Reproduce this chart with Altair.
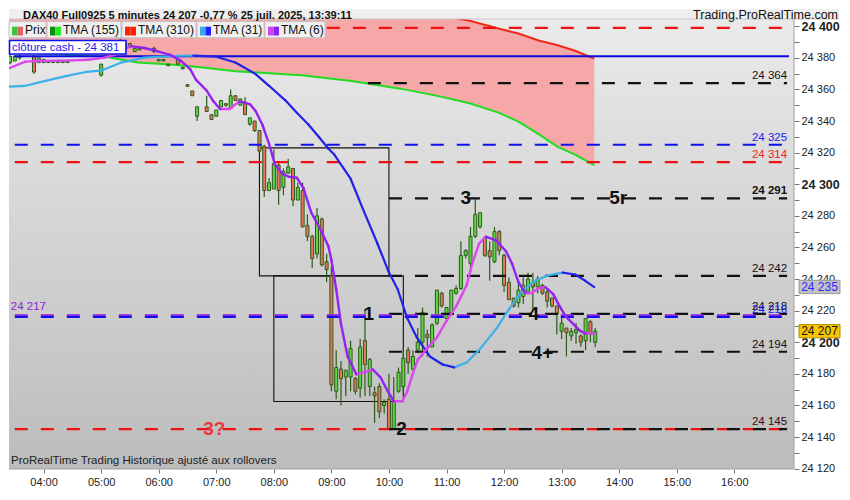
import altair as alt
import pandas as pd
import numpy as np

FONT = "Liberation Sans, Arial, sans-serif"
NARROW = "Liberation Sans Narrow, Liberation Sans, sans-serif"

W, H = 785, 460
X_DOMAIN = [3.486, 16.95]
Y_DOMAIN = [24119.8, 24410.9]

# ---------------- candles (5 minutes) ----------------
CANDLE_TIMES = [
    "03:25", "03:30", "03:35", "03:50", "03:55", "04:00", "04:05", "04:10", "04:15", "04:20", "04:25",
    "05:00", "05:20", "05:25", "05:30", "05:35", "05:40", "05:55", "06:00", "06:05", "06:10", "06:20", "06:25",
    "06:30", "06:35", "06:40", "06:50", "06:55", "07:00", "07:05", "07:10", "07:15", "07:20", "07:25", "07:30",
    "07:35", "07:40", "07:45", "07:50", "07:55", "08:00", "08:05", "08:10", "08:15", "08:20", "08:25", "08:30",
    "08:35", "08:40", "08:45", "08:50", "08:55", "09:00", "09:05", "09:10", "09:15", "09:20", "09:25", "09:30",
    "09:35", "09:40", "09:45", "09:50", "09:55", "10:00", "10:05", "10:10", "10:15", "10:20", "10:25", "10:30",
    "10:35", "10:40", "10:45", "10:50", "10:55", "11:00", "11:05", "11:10", "11:15", "11:20", "11:25", "11:30",
    "11:35", "11:40", "11:45", "11:50", "11:55", "12:00", "12:05", "12:10", "12:15", "12:20", "12:25", "12:30",
    "12:35", "12:40", "12:45", "12:50", "12:55", "13:00", "13:05", "13:10", "13:15", "13:20", "13:25", "13:30", "13:35"]
OPEN = [
    24377, 24378, 24380, 24381, 24377, 24377, 24378, 24378, 24378, 24377, 24377,
    24369, 24387, 24388, 24389, 24384, 24385, 24384, 24378, 24378, 24375, 24379, 24373,
    24363, 24359, 24343, 24349, 24344, 24343, 24349, 24351, 24348, 24356, 24350, 24352,
    24338, 24340, 24334, 24324, 24296, 24297, 24312, 24298, 24307, 24310, 24290, 24296,
    24274, 24267, 24256, 24278, 24251, 24242, 24169, 24183, 24178, 24178, 24177, 24171,
    24201, 24172, 24168, 24172, 24160, 24164, 24145, 24169, 24172, 24195, 24183, 24195,
    24200, 24205, 24197, 24212, 24231, 24215, 24218, 24231, 24234, 24255, 24250, 24267,
    24273, 24266, 24258, 24251, 24270, 24255, 24238, 24228, 24225, 24229, 24232, 24238,
    24235, 24236, 24232, 24228, 24223, 24207, 24209, 24204, 24206, 24204, 24201, 24213, 24200]
HIGH = [
    24382, 24381, 24382, 24382, 24380, 24379, 24378, 24378, 24378, 24378, 24378,
    24376, 24392, 24390, 24389, 24386, 24386, 24387, 24379, 24379, 24376, 24379, 24374,
    24363, 24359, 24349, 24356, 24344, 24347, 24353, 24351, 24360, 24356, 24354, 24355,
    24342, 24340, 24334, 24325, 24304, 24322, 24314, 24310, 24316, 24310, 24301, 24301,
    24281, 24268, 24285, 24279, 24256, 24248, 24195, 24188, 24183, 24201, 24178, 24202,
    24221, 24190, 24172, 24174, 24164, 24180, 24178, 24184, 24197, 24197, 24195, 24209,
    24222, 24208, 24212, 24233, 24232, 24222, 24233, 24236, 24264, 24259, 24273, 24291,
    24282, 24267, 24264, 24273, 24271, 24256, 24241, 24228, 24239, 24241, 24244, 24244,
    24242, 24237, 24234, 24228, 24223, 24216, 24209, 24209, 24212, 24205, 24215, 24214, 24209]
LOW = [
    24376, 24378, 24379, 24370, 24377, 24377, 24377, 24377, 24377, 24377, 24377,
    24368, 24386, 24388, 24386, 24384, 24385, 24383, 24378, 24378, 24375, 24376, 24373,
    24362, 24356, 24340, 24346, 24341, 24343, 24349, 24349, 24348, 24353, 24350, 24344,
    24337, 24333, 24320, 24292, 24296, 24297, 24287, 24293, 24307, 24286, 24290, 24273,
    24264, 24247, 24253, 24248, 24238, 24169, 24164, 24160, 24166, 24169, 24167, 24165,
    24166, 24166, 24149, 24152, 24155, 24145, 24145, 24168, 24168, 24180, 24182, 24193,
    24191, 24191, 24197, 24211, 24222, 24214, 24217, 24230, 24233, 24253, 24244, 24266,
    24272, 24254, 24239, 24250, 24255, 24232, 24227, 24222, 24222, 24224, 24230, 24220,
    24231, 24230, 24222, 24222, 24205, 24202, 24191, 24201, 24199, 24197, 24195, 24200, 24197]
CLOSE = [
    24381, 24381, 24381, 24371, 24380, 24379, 24377, 24377, 24377, 24378, 24378,
    24376, 24391, 24389, 24387, 24386, 24386, 24386, 24379, 24379, 24376, 24376, 24374,
    24362, 24356, 24349, 24346, 24341, 24347, 24353, 24350, 24356, 24353, 24354, 24344,
    24342, 24334, 24321, 24296, 24301, 24313, 24296, 24308, 24311, 24290, 24298, 24273,
    24267, 24253, 24280, 24249, 24246, 24173, 24184, 24177, 24182, 24196, 24169, 24197,
    24186, 24189, 24166, 24156, 24162, 24145, 24163, 24181, 24190, 24187, 24191, 24200,
    24219, 24203, 24211, 24233, 24223, 24222, 24233, 24234, 24255, 24258, 24267, 24281,
    24282, 24255, 24254, 24270, 24258, 24236, 24227, 24223, 24233, 24236, 24240, 24235,
    24240, 24231, 24226, 24223, 24218, 24212, 24206, 24207, 24208, 24200, 24215, 24205, 24207]

# ---------------- moving averages ----------------
TMA6_TIMES = ["03:21", "03:41", "03:55", "04:15", "04:30", "04:46", "05:04", "05:14", "05:24", "05:31",
              "05:45", "05:58", "06:12", "06:23", "06:33", "06:39", "06:50", "06:57", "07:04", "07:14",
              "07:24", "07:35", "07:41", "07:48", "07:55", "08:01", "08:09", "08:16", "08:24", "08:31",
              "08:39", "08:50", "08:57", "09:00", "09:05", "09:10", "09:17", "09:26", "09:34", "09:43",
              "09:51", "09:59", "10:05", "10:14", "10:19", "10:24", "10:30", "10:40", "10:50", "11:00",
              "11:10", "11:21", "11:27", "11:34", "11:41", "11:52", "12:02", "12:08", "12:15", "12:22",
              "12:29", "12:36", "12:43", "12:51", "12:58", "13:04", "13:12", "13:19", "13:25", "13:34"]
TMA6 = [24372.7, 24377.6, 24378.0, 24378.2, 24378.4, 24378.8, 24380.1, 24381.9, 24385.6, 24387.4,
        24386.2, 24384.3, 24381.9, 24378.2, 24372.7, 24366.0, 24359.2, 24352.5, 24347.6, 24347.6,
        24352.5, 24350.7, 24346.4, 24337.8, 24325.6, 24312.7, 24306.6, 24304.7, 24304.1, 24297.4,
        24282.1, 24269.8, 24260.6, 24252.1, 24233.7, 24211.6, 24190.8, 24179.8, 24181.0, 24182.9,
        24178.0, 24168.8, 24162.7, 24162.7, 24168.8, 24178.6, 24189.0, 24196.3, 24203.1, 24213.5,
        24222.7, 24236.1, 24250.2, 24262.5, 24266.8, 24264.3, 24257.6, 24250.2, 24238.0, 24231.2,
        24231.2, 24234.3, 24234.9, 24230.6, 24222.7, 24216.5, 24211.6, 24207.4, 24205.5, 24205.5]

TMA31_TIMES = ["03:21", "03:41", "04:02", "04:23", "04:43", "05:01", "05:21", "05:45", "06:05", "06:19",
               "06:36", "07:00", "07:20", "07:41", "07:55", "08:12", "08:24", "08:36", "08:47", "08:57",
               "09:03", "09:20", "09:34", "09:48", "10:00", "10:09", "10:19", "10:29", "10:43", "10:56",
               "11:08", "11:21", "11:34", "11:52", "12:05", "12:18", "12:33", "12:46", "13:01", "13:14",
               "13:24", "13:34"]
TMA31 = [24361.7, 24362.3, 24365.4, 24368.4, 24370.9, 24372.1, 24377.0, 24380.1, 24380.7, 24381.3,
         24381.4, 24380.7, 24377.0, 24369.7, 24362.3, 24353.1, 24345.2, 24337.8, 24329.9, 24322.5,
         24318.8, 24303.5, 24282.7, 24262.5, 24244.1, 24233.7, 24215.3, 24203.1, 24190.8, 24185.9,
         24184.1, 24187.2, 24195.1, 24208.6, 24220.8, 24231.9, 24239.2, 24242.3, 24244.1, 24242.9,
         24239.2, 24234.9]

SLOW_TIMES = ["03:21", "04:12", "05:04", "05:38", "06:13", "06:46", "07:20", "07:55", "08:29", "09:21",
              "10:12", "10:53", "11:24", "11:55", "12:15", "12:36", "12:56", "13:14", "13:34"]
TMA155 = [24383.7, 24382.5, 24380.7, 24377.0, 24375.8, 24373.9, 24371.5, 24370.3, 24369.0, 24365.4,
          24360.5, 24355.6, 24351.3, 24345.2, 24339.6, 24331.7, 24323.7, 24318.8, 24312.1]
TMA310 = [24462, 24458, 24453, 24449, 24445, 24440, 24435, 24429, 24424, 24418,
          24412, 24407, 24403.5, 24398.4, 24395.4, 24391.0, 24388.0, 24384.5, 24379.5]

# ---------------- horizontal levels ----------------
LEVEL_PRICES = [24399, 24364, 24325, 24314, 24291, 24242, 24218, 24217, 24216, 24194, 24145, 24145]
LEVEL_COLORS = ["#ee1111", "#111111", "#1010ee", "#ee1111", "#111111", "#111111", "#111111",
                "#8a22dd", "#1010ee", "#111111", "#ee1111", "#111111"]
LEVEL_START = ["03:30", "09:38", "03:30", "03:30", "10:00", "10:00", "10:00",
               "03:30", "03:30", "10:00", "03:30", "10:00"]
LEVEL_END = "16:55"
CASH_CLOSE = 24381

LABEL_PRICES = [24364, 24325, 24314, 24242, 24218, 24216, 24194, 24145]
LABEL_COLORS = ["#111111", "#2020ee", "#ee2020", "#111111", "#111111", "#2020ee", "#111111", "#3a0a0a"]
BOLD_LABEL = 24291

ANNOT_TEXT = ["3", "5r", "1", "4", "4+", "2", "3?"]
ANNOT_TIME = ["11:20", "13:59", "09:39", "12:31", "12:40", "10:13", "06:58"]
ANNOT_PRICE = [24291, 24291, 24218, 24218, 24193, 24145, 24145]
ANNOT_COLOR = ["#111111", "#111111", "#111111", "#111111", "#111111", "#111111", "#e83a3a"]

BOX_T1 = ["07:45", "08:00"]
BOX_T2 = ["10:00", "10:15"]
BOX_TOP = [24323, 24242]
BOX_BOTTOM = [24242, 24162.5]

LAST_PRICE = 24207
TMA31_LAST = 24235


def to_h(s):
    h, m = s.split(":")
    return int(h) + int(m) / 60.0


def fmt(p):
    p = int(round(p))
    return f"{p // 1000} {p % 1000:03d}"


xs = alt.Scale(domain=X_DOMAIN, nice=False, zero=False)
ys = alt.Scale(domain=Y_DOMAIN, nice=False, zero=False)
xaxis = alt.Axis(values=list(range(4, 17)), labelExpr="(datum.value < 10 ? '0' : '') + datum.value + ':00'",
                 title=None, grid=False, domain=False, tickColor="#777", tickSize=4, labelFontSize=11,
                 labelColor="#222", labelFont=FONT, labelPadding=3)
yaxis = alt.Axis(orient="right", values=list(range(24120, 24401, 10)),
                 labelExpr="datum.value % 20 === 0 ? replace(format(datum.value, ','), ',', ' ') : ''",
                 title=None, grid=False, domain=False, tickColor="#777", tickSize=5, labelPadding=2,
                 labelFont=FONT, labelColor="#222",
                 labelFontSize={"condition": {"test": "datum.value % 100 === 0", "value": 12.5}, "value": 11},
                 labelFontWeight={"condition": {"test": "datum.value % 100 === 0", "value": "bold"},
                                  "value": "normal"})


def X(f):
    return alt.X(f, type="quantitative", scale=xs, axis=xaxis)


def Y(f):
    return alt.Y(f, type="quantitative", scale=ys, axis=yaxis)


ONE = pd.DataFrame({"k": [0]})


def prect(x1, x2, y1, y2, fill, stroke=None, sw=1.0):
    kw = dict(fill=fill)
    if stroke:
        kw.update(stroke=stroke, strokeWidth=sw)
    return alt.Chart(ONE).mark_rect(**kw).encode(
        x=alt.value(x1), x2=alt.value(x2), y=alt.value(y1), y2=alt.value(y2))


def ptext(x, y, text, size=12, color="#111", weight="normal", align="left", font=FONT, baseline="middle"):
    return alt.Chart(ONE).mark_text(text=text, fontSize=size, color=color, fontWeight=weight,
                                    align=align, baseline=baseline, font=font).encode(
        x=alt.value(x), y=alt.value(y))


# ---------------- dataframes ----------------
cd = pd.DataFrame({"t": [to_h(s) for s in CANDLE_TIMES], "o": OPEN, "h": HIGH, "l": LOW, "c": CLOSE})
up = cd[cd.c >= cd.o]
dn = cd[cd.c < cd.o]


def segs(times, vals):
    d = pd.DataFrame({"t": [to_h(s) for s in times], "v": vals})
    d["t2"] = d["t"].shift(-1)
    d["v2"] = d["v"].shift(-1)
    d = d.dropna()
    d["dir"] = np.where(d["v2"] >= d["v"], "up", "down")
    return d


s6 = segs(TMA6_TIMES, TMA6)
s31 = segs(TMA31_TIMES, TMA31)
slow = pd.DataFrame({"t": [to_h(s) for s in SLOW_TIMES], "a": TMA155, "b": TMA310})
lv = pd.DataFrame({"p": LEVEL_PRICES, "c": LEVEL_COLORS, "t1": [to_h(s) for s in LEVEL_START],
                   "t2": to_h(LEVEL_END)})
lab = pd.DataFrame({"p": LABEL_PRICES, "c": LABEL_COLORS, "s": [fmt(p) for p in LABEL_PRICES],
                    "t": to_h(LEVEL_END)})
labb = pd.DataFrame({"p": [BOLD_LABEL], "s": [fmt(BOLD_LABEL)], "t": [to_h(LEVEL_END)]})
ann = pd.DataFrame({"s": ANNOT_TEXT, "t": [to_h(s) for s in ANNOT_TIME], "p": ANNOT_PRICE, "c": ANNOT_COLOR})
boxes = pd.DataFrame({"t1": [to_h(s) for s in BOX_T1], "t2": [to_h(s) for s in BOX_T2],
                      "top": BOX_TOP, "bot": BOX_BOTTOM})
cash = pd.DataFrame({"p": [CASH_CLOSE], "t1": [X_DOMAIN[0]], "t2": [X_DOMAIN[1]]})
left_lab = pd.DataFrame({"p": [24217], "t": [to_h("03:30")], "s": [fmt(24217)]})

layers = []

# background gradient
layers.append(alt.Chart(ONE).mark_rect(color={
    "gradient": "linear", "x1": 0, "x2": 0, "y1": 0, "y2": 1,
    "stops": [{"offset": 0, "color": "#ebebeb"}, {"offset": 1, "color": "#bcbcbc"}]}).encode(
    x=alt.value(0), x2=alt.value(W), y=alt.value(0), y2=alt.value(H)))

# pink cloud between slow averages
layers.append(alt.Chart(slow).mark_area(color="#f6a8a8", opacity=1, clip=True).encode(
    x=X("t"), y=Y("a"), y2=alt.Y2("b")))
layers.append(alt.Chart(slow).mark_line(color="#1fdc1f", strokeWidth=2, clip=True).encode(x=X("t"), y=Y("a")))
layers.append(alt.Chart(slow).mark_line(color="#ee2a1a", strokeWidth=2, clip=True).encode(x=X("t"), y=Y("b")))

# rectangles
layers.append(alt.Chart(boxes).mark_rect(fillOpacity=0, stroke="#111", strokeWidth=1.1, clip=True).encode(
    x=X("t1"), x2=alt.X2("t2"), y=Y("top"), y2=alt.Y2("bot")))

# candles
layers.append(alt.Chart(cd).mark_rule(color="#2b5a18", strokeWidth=1.2, clip=True).encode(
    x=X("t"), y=Y("l"), y2=alt.Y2("h")))
layers.append(alt.Chart(up).mark_bar(size=3, fill="#5fd846", stroke="#2b5a18", strokeWidth=1, clip=True).encode(
    x=X("t"), y=Y("o"), y2=alt.Y2("c")))
layers.append(alt.Chart(dn).mark_bar(size=3, fill="#e8765f", stroke="#2b5a18", strokeWidth=1, clip=True).encode(
    x=X("t"), y=Y("o"), y2=alt.Y2("c")))

# levels
layers.append(alt.Chart(cash).mark_rule(color="#0a0ae0", strokeWidth=2, clip=True).encode(
    x=X("t1"), x2=alt.X2("t2"), y=Y("p")))
layers.append(alt.Chart(lv).mark_rule(strokeDash=[13, 13], strokeWidth=2.2, clip=True).encode(
    x=X("t1"), x2=alt.X2("t2"), y=Y("p"), color=alt.Color("c:N", scale=None)))

# moving averages (coloured by slope)
for d, col_up, col_dn, sw in [(s31, "#3cb0ea", "#2222e6", 2.2), (s6, "#dc46f0", "#9422f2", 2.4)]:
    layers.append(alt.Chart(d[d.dir == "up"]).mark_rule(color=col_up, strokeWidth=sw, strokeCap="round",
                                                        clip=True).encode(
        x=X("t"), x2=alt.X2("t2"), y=Y("v"), y2=alt.Y2("v2")))
    layers.append(alt.Chart(d[d.dir == "down"]).mark_rule(color=col_dn, strokeWidth=sw, strokeCap="round",
                                                          clip=True).encode(
        x=X("t"), x2=alt.X2("t2"), y=Y("v"), y2=alt.Y2("v2")))

# level labels
layers.append(alt.Chart(lab).mark_text(align="right", dy=-7, fontSize=11.5, font=FONT).encode(
    x=X("t"), y=Y("p"), text="s:N", color=alt.Color("c:N", scale=None)))
layers.append(alt.Chart(labb).mark_text(align="right", dy=-7, fontSize=11.5, font=FONT, fontWeight="bold",
                                        color="#111").encode(x=X("t"), y=Y("p"), text="s:N"))
layers.append(alt.Chart(left_lab).mark_text(align="left", dx=-4, dy=-8, fontSize=11.5, font=FONT,
                                            color="#8a22dd").encode(x=X("t"), y=Y("p"), text="s:N"))

# big annotations
layers.append(alt.Chart(ann).mark_text(fontSize=19, fontWeight="bold", font=FONT).encode(
    x=X("t"), y=Y("p"), text="s:N", color=alt.Color("c:N", scale=None)))

# price tags on the right axis
tag = pd.DataFrame({"p": [TMA31_LAST, LAST_PRICE], "s": [fmt(TMA31_LAST), fmt(LAST_PRICE)],
                    "hi": [TMA31_LAST + 4.2, LAST_PRICE + 4.2], "lo": [TMA31_LAST - 4.2, LAST_PRICE - 4.2],
                    "fill": ["#c2c2c2", "#f8c600"], "stroke": ["#9a9a9a", "#b58d00"],
                    "tc": ["#2a2aff", "#111111"]})
layers.append(alt.Chart(tag).mark_rect(strokeWidth=1).encode(
    x=alt.value(790), x2=alt.value(831), y=Y("hi"), y2=alt.Y2("lo"),
    fill=alt.Fill("fill:N", scale=None), stroke=alt.Stroke("stroke:N", scale=None)))
layers.append(alt.Chart(tag).mark_text(fontSize=12, font=FONT, align="center").encode(
    x=alt.value(810.5), y=Y("p"), text="s:N", color=alt.Color("tc:N", scale=None)))

# legend chips
LEG = [("Prix", 0, 37, "#3cc43c", "#e06464"), ("TMA (155)", 38, 112, "#0f8a0f", "#22ee22"),
       ("TMA (310)", 113, 187, "#ff2200", "#ff2200"), ("TMA (31)", 188, 255, "#3aa8ee", "#2020ff"),
       ("TMA (6)", 256, 316, "#cc44ee", "#8a22ee")]
for name, a, b, c1, c2 in LEG:
    layers.append(prect(a, b, 12.6, 28.7, "#f0f0f0", "#c4c4c4", 1))
    layers.append(prect(a + 3, a + 8.5, 17.7, 26.5, c1))
    layers.append(prect(a + 8.5, a + 14, 17.7, 26.5, c2))
    layers.append(ptext(a + 16, 21, name, size=12, color="#111"))
layers.append(prect(0.5, 117, 31.5, 45, "#ffffff", "#1010ee", 1.6))
layers.append(ptext(3, 38.5, "clôture cash -  24 381", size=11.5, color="#2222ee"))

# bottom-left caption
layers.append(ptext(2, 452, "ProRealTime Trading  Historique ajusté aux rollovers", size=11.5,
                    color="#222", font=NARROW))

# title band
layers.append(prect(0, 830, 0, 10, "#efefef"))
layers.append(alt.Chart(ONE).mark_rule(color="#c8c8c8", strokeWidth=1).encode(
    x=alt.value(0), x2=alt.value(830), y=alt.value(10)))
layers.append(ptext(14, 9.5, "DAX40 Full0925 5 minutes 24 207 -0,77 % 25 juil. 2025, 13:39:11",
                    size=11, weight="bold", baseline="alphabetic"))
layers.append(ptext(829, 9.5, "Trading.ProRealTime.com", size=12.5, align="right", baseline="alphabetic"))

# plot border
layers.append(alt.Chart(ONE).mark_rule(color="#a0a0a0", strokeWidth=1).encode(
    x=alt.value(W), y=alt.value(10), y2=alt.value(H)))
layers.append(alt.Chart(ONE).mark_rule(color="#a0a0a0", strokeWidth=1).encode(
    x=alt.value(0), x2=alt.value(W), y=alt.value(H)))

chart = alt.layer(*layers).properties(
    width=W, height=H, padding={"left": 0, "top": 0, "right": 0, "bottom": 0},
    background="#ffffff").configure_view(stroke=None)

chart.save("out.html", embed_options={"renderer": "svg", "actions": False})
